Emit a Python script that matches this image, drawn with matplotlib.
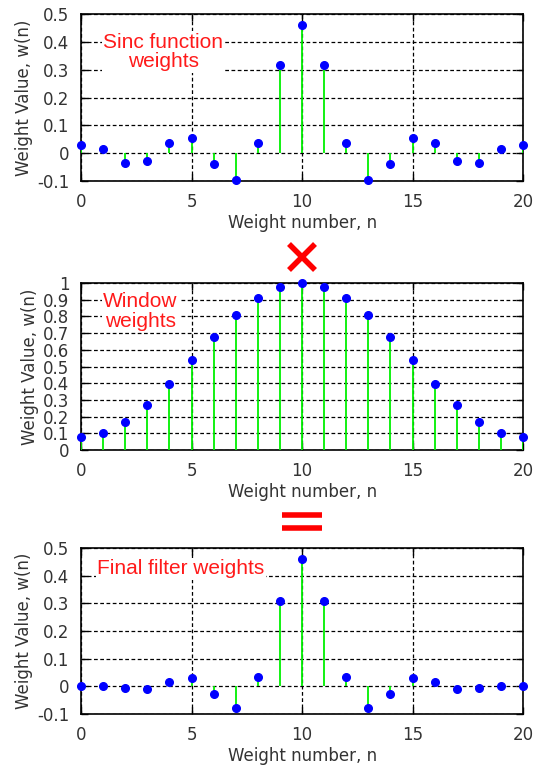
import matplotlib.pyplot as plt
from matplotlib.lines import Line2D

# weight index
n = list(range(21))

# values
sinc_w = [0.029, 0.014, -0.034, -0.029, 0.038, 0.053, -0.038, -0.096, 0.038, 0.317, 0.462,
          0.317, 0.038, -0.096, -0.038, 0.053, 0.038, -0.029, -0.034, 0.014, 0.029]
window_w = [0.08, 0.104, 0.167, 0.271, 0.398, 0.542, 0.680, 0.808, 0.910, 0.975, 1.0,
            0.975, 0.910, 0.808, 0.680, 0.542, 0.398, 0.271, 0.167, 0.104, 0.08]
final_w = [0.002, 0.001, -0.006, -0.008, 0.015, 0.029, -0.026, -0.080, 0.035, 0.309, 0.462,
           0.309, 0.035, -0.080, -0.026, 0.029, 0.015, -0.008, -0.006, 0.001, 0.002]

sinc_ticks = [-0.1, 0, 0.1, 0.2, 0.3, 0.4, 0.5]
win_ticks = [0, 0.1, 0.2, 0.3, 0.4, 0.5, 0.6, 0.7, 0.8, 0.9, 1]
x_ticks = [0, 5, 10, 15, 20]

TXT = '#333333'
W, H = 537, 772


def draw(ax, y, ylim, yticks, label, lx, ly):
    ax.set_xlim(0, 20)
    ax.set_ylim(*ylim)
    ax.set_xticks(x_ticks)
    ax.set_yticks(yticks)
    ax.set_yticklabels(['%g' % t for t in yticks])
    ax.tick_params(direction='in', top=True, right=True, length=5, width=1,
                   labelsize=12, labelcolor=TXT, pad=8.5)
    ax.xaxis.grid(True, color='black', ls=(0, (3, 2)), lw=0.9)
    ax.yaxis.grid(True, color='black', ls=(0, (3, 2)), lw=0.9)
    ax.set_axisbelow(True)
    for s in ax.spines.values():
        s.set_linewidth(1.2)
    ax.vlines(n, 0, y, colors='#00f000', lw=1.3, zorder=3)
    ax.plot(n, y, 'o', color='#0000ff', ms=5.5, clip_on=False, zorder=4)
    ax.set_xlabel('Weight number, n', fontsize=12, color=TXT, labelpad=2)
    ax.set_ylabel('Weight Value, w(n)', fontsize=12, color=TXT, labelpad=3)
    ax.text(lx, ly, label, transform=ax.transAxes, ha='center', va='center',
            color='#ff1a1a', fontsize=15, family='Liberation Sans', linespacing=1.05,
            bbox=dict(facecolor='white', edgecolor='none', pad=1), zorder=5)


fig = plt.figure(figsize=(W / 100, H / 100), dpi=100)
ax1 = fig.add_axes([0.151, 0.7655, 0.823, 0.2163])
ax2 = fig.add_axes([0.151, 0.417, 0.823, 0.2163])
ax3 = fig.add_axes([0.151, 0.0751, 0.823, 0.215])

draw(ax1, sinc_w, (-0.1, 0.5), sinc_ticks, 'Sinc function\nweights', 0.186, 0.772)
draw(ax2, window_w, (0, 1), win_ticks, 'Window\nweights', 0.134, 0.83)
draw(ax3, final_w, (-0.1, 0.5), sinc_ticks, 'Final filter weights', 0.226, 0.875)

# red "x" and "=" signs between the panels
red = '#ff0000'
for xs, ys in [((289, 315), (244, 270)), ((289, 315), (270, 244))]:
    fig.add_artist(Line2D([v / W for v in xs], [1 - v / H for v in ys],
                          color=red, lw=4, solid_capstyle='butt'))
for yy in (515, 528):
    fig.add_artist(Line2D([282 / W, 322 / W], [1 - yy / H, 1 - yy / H],
                          color=red, lw=4, solid_capstyle='butt'))

fig.savefig('out.png', dpi=100)
